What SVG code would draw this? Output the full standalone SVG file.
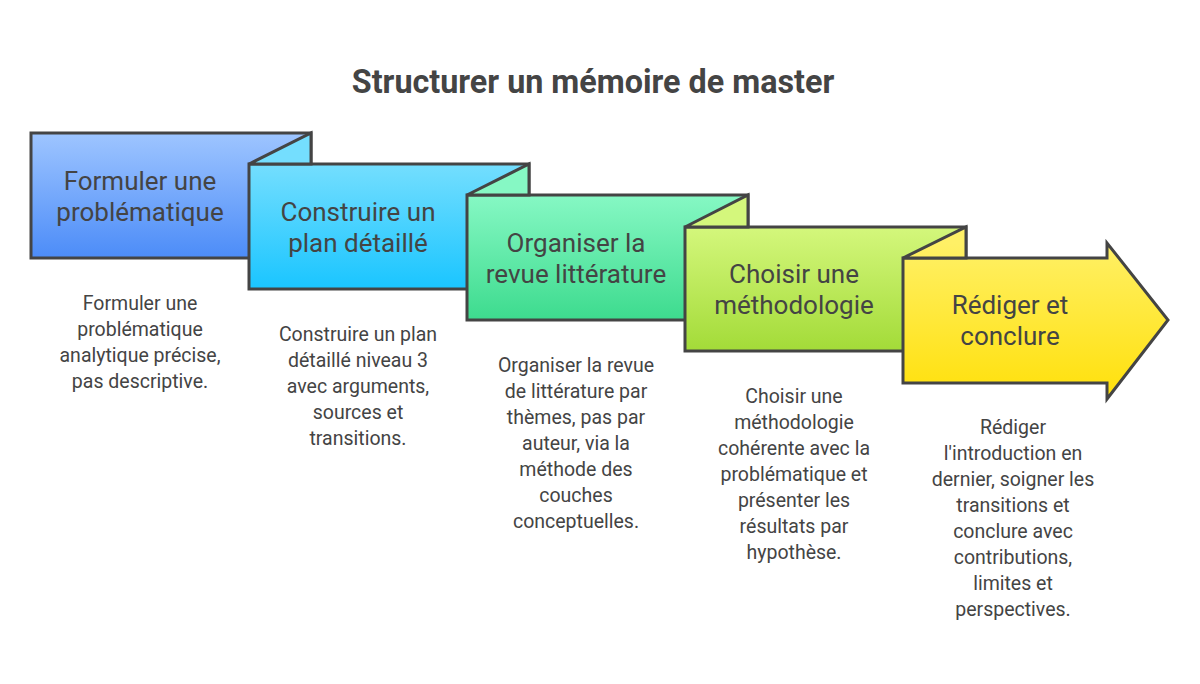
<svg xmlns="http://www.w3.org/2000/svg" width="1200" height="684" viewBox="0 0 1200 684">
<defs>
<linearGradient id="g1" gradientUnits="userSpaceOnUse" x1="0" y1="133" x2="0" y2="258"><stop offset="0" stop-color="#9ec5ff"/><stop offset="1" stop-color="#4c8cf8"/></linearGradient>
<linearGradient id="g2" gradientUnits="userSpaceOnUse" x1="0" y1="164" x2="0" y2="289"><stop offset="0" stop-color="#74defe"/><stop offset="1" stop-color="#1ac5ff"/></linearGradient>
<linearGradient id="g3" gradientUnits="userSpaceOnUse" x1="0" y1="195" x2="0" y2="320"><stop offset="0" stop-color="#86f8c4"/><stop offset="1" stop-color="#3ddb8e"/></linearGradient>
<linearGradient id="g4" gradientUnits="userSpaceOnUse" x1="0" y1="227" x2="0" y2="351"><stop offset="0" stop-color="#d4f77c"/><stop offset="1" stop-color="#a3db38"/></linearGradient>
<linearGradient id="g5" gradientUnits="userSpaceOnUse" x1="0" y1="243" x2="0" y2="399"><stop offset="0" stop-color="#fff066"/><stop offset="1" stop-color="#ffe00a"/></linearGradient>
</defs>
<style>
.sh{stroke:#444444;stroke-width:3;stroke-linejoin:miter}
.lb{font-family:Roboto,"Liberation Sans",sans-serif;font-size:26px;fill:#444444;text-anchor:middle}
.ds{font-family:Roboto,"Liberation Sans",sans-serif;font-size:19.5px;fill:#444444;text-anchor:middle}
.tt{font-family:Roboto,"Liberation Sans",sans-serif;font-size:32.3px;font-weight:bold;fill:#444444;text-anchor:middle}
</style>
<rect width="1200" height="684" fill="#ffffff"/>
<text class="tt" x="593" y="93">Structurer un mémoire de master</text>
<g id="step1">
<rect class="sh" x="31" y="133" width="280" height="125" fill="url(#g1)"/>
<text class="lb" x="140" y="190">Formuler une</text>
<text class="lb" x="140" y="221">problématique</text>
</g>
<g id="step2">
<rect class="sh" x="249" y="164" width="280" height="125" fill="url(#g2)"/>
<polygon class="sh" points="249,164 311,133 311,164" fill="url(#g2)"/>
<text class="lb" x="358" y="221">Construire un</text>
<text class="lb" x="358" y="252">plan détaillé</text>
</g>
<g id="step3">
<rect class="sh" x="467" y="195" width="281" height="125" fill="url(#g3)"/>
<polygon class="sh" points="467,195 529,164 529,195" fill="url(#g3)"/>
<text class="lb" x="576" y="252">Organiser la</text>
<text class="lb" x="576" y="283">revue littérature</text>
</g>
<g id="step4">
<rect class="sh" x="685" y="227" width="281" height="124" fill="url(#g4)"/>
<polygon class="sh" points="685,227 748,195 748,227" fill="url(#g4)"/>
<text class="lb" x="794" y="283">Choisir une</text>
<text class="lb" x="794" y="314">méthodologie</text>
</g>
<g id="step5">
<polygon class="sh" points="903,258 1107,258 1107,243 1168,320 1107,399 1107,383 903,383" fill="url(#g5)"/>
<polygon class="sh" points="903,258 966,227 966,258" fill="url(#g5)"/>
<text class="lb" x="1010" y="314">Rédiger et</text>
<text class="lb" x="1010" y="345">conclure</text>
</g>
<g id="desc1">
<text class="ds" x="140" y="310">Formuler une</text>
<text class="ds" x="140" y="336">problématique</text>
<text class="ds" x="140" y="362">analytique précise,</text>
<text class="ds" x="140" y="388">pas descriptive.</text>
</g>
<g id="desc2">
<text class="ds" x="358" y="341">Construire un plan</text>
<text class="ds" x="358" y="367">détaillé niveau 3</text>
<text class="ds" x="358" y="393">avec arguments,</text>
<text class="ds" x="358" y="419">sources et</text>
<text class="ds" x="358" y="445">transitions.</text>
</g>
<g id="desc3">
<text class="ds" x="576" y="372">Organiser la revue</text>
<text class="ds" x="576" y="398">de littérature par</text>
<text class="ds" x="576" y="424">thèmes, pas par</text>
<text class="ds" x="576" y="450">auteur, via la</text>
<text class="ds" x="576" y="476">méthode des</text>
<text class="ds" x="576" y="502">couches</text>
<text class="ds" x="576" y="528">conceptuelles.</text>
</g>
<g id="desc4">
<text class="ds" x="794" y="403">Choisir une</text>
<text class="ds" x="794" y="429">méthodologie</text>
<text class="ds" x="794" y="455">cohérente avec la</text>
<text class="ds" x="794" y="481">problématique et</text>
<text class="ds" x="794" y="507">présenter les</text>
<text class="ds" x="794" y="533">résultats par</text>
<text class="ds" x="794" y="559">hypothèse.</text>
</g>
<g id="desc5">
<text class="ds" x="1013" y="434">Rédiger</text>
<text class="ds" x="1013" y="460">l'introduction en</text>
<text class="ds" x="1013" y="486">dernier, soigner les</text>
<text class="ds" x="1013" y="512">transitions et</text>
<text class="ds" x="1013" y="538">conclure avec</text>
<text class="ds" x="1013" y="564">contributions,</text>
<text class="ds" x="1013" y="590">limites et</text>
<text class="ds" x="1013" y="616">perspectives.</text>
</g>
</svg>
